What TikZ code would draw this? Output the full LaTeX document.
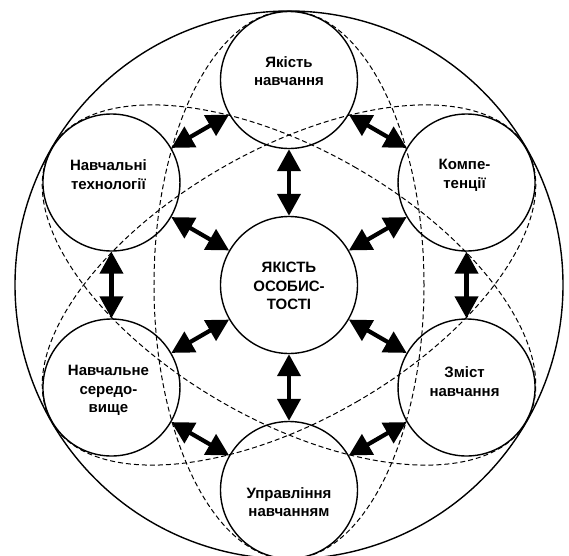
\documentclass[tikz,border=0pt]{standalone}
\usepackage{fontspec}
\setmainfont{Liberation Sans}
\usepackage{tikz}
\usetikzlibrary{arrows.meta,calc}

\begin{document}
\begin{tikzpicture}[x=1pt,y=1pt,
  block/.style={circle,draw,line width=1.4pt,minimum size=137pt,inner sep=0pt},
  caption/.style={align=center,font=\fontsize{15}{18.5}\selectfont\bfseries},
  orbit/.style={dashed,line width=1pt,dash pattern=on 5pt off 3pt},
  link/.style={line width=4.2pt,arrows={Triangle[length=22pt,width=23pt]-Triangle[length=22pt,width=23pt]}}]
\useasboundingbox (-289,-270) rectangle (280,285);

% outer ring and the three ellipses
\draw[line width=1.4pt] (0,0) circle (274);
\foreach \a in {0,60,-60}
  \draw[orbit,rotate=\a] (0,0) ellipse [x radius=135,y radius=274];

% circles
\node(core)[block] at (0,0) {};
\node(quality)[block] at (90:205) {};
\node(skills)[block] at (30:205) {};
\node(content)[block] at (-30:205) {};
\node(control)[block] at (-90:205) {};
\node(milieu)[block] at (-150:205) {};
\node(tech)[block] at (150:205) {};

% texts
\node(coreT)[caption] at ($(core)+(0,-1)$) {ЯКІСТЬ\\ОСОБИС-\\ТОСТІ};
\node(qualityT)[caption] at ($(quality)+(0,9)$) {Якість\\навчання};
\node(skillsT)[caption] at ($(skills)+(-2,7)$) {Компе-\\тенції};
\node(contentT)[caption] at ($(content)+(-2,6)$) {Зміст\\навчання};
\node(controlT)[caption] at ($(control)+(0,-12)$) {Управління\\навчанням};
\node(milieuT)[caption] at ($(milieu)+(-3,-3)$) {Навчальне\\середо-\\вище};
\node(techT)[caption] at ($(tech)+(-3,8)$) {Навчальні\\технології};

% arrows to the core
\draw [link] (core) to (quality);
\draw [link] (core) to (skills);
\draw [link] (core) to (content);
\draw [link] (core) to (control);
\draw [link] (core) to (milieu);
\draw [link] (core) to (tech);
% arrows round the ring
\draw [link] (quality) to (skills);
\draw [link] (skills) to (content);
\draw [link] (content) to (control);
\draw [link] (control) to (milieu);
\draw [link] (milieu) to (tech);
\draw [link] (tech) to (quality);
\end{tikzpicture}
\end{document}
